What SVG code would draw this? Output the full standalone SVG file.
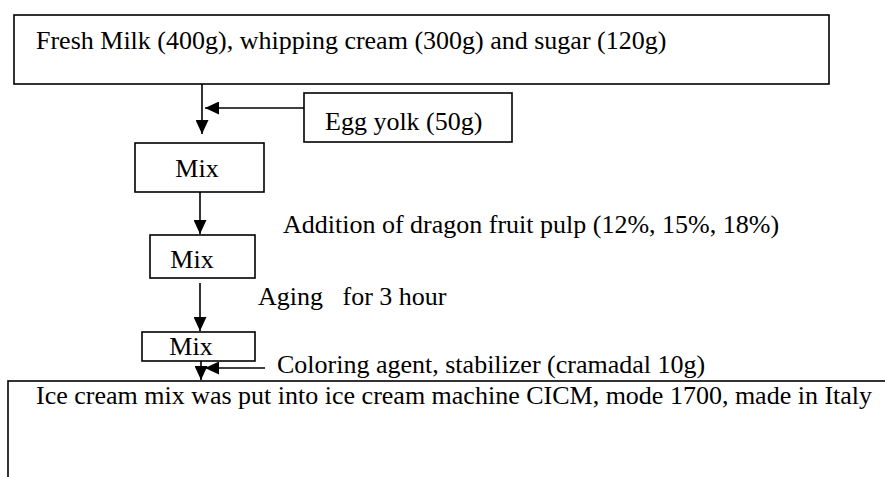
<svg xmlns="http://www.w3.org/2000/svg" width="885" height="477" viewBox="0 0 885 477">
<style>
.box{fill:#fff;stroke:#000;stroke-width:1.6}
.t{font-family:"Liberation Serif","Times New Roman",serif;font-size:26px;fill:#000}
.c{stroke:#000;stroke-width:1.6;fill:none}
</style>
<defs>
<marker id="ahs" viewBox="0 0 10 10" refX="10" refY="5" markerWidth="14" markerHeight="13" markerUnits="userSpaceOnUse" orient="auto" preserveAspectRatio="none">
<path d="M0,0 L10,5 L0,10 Z" fill="#000"/>
</marker>
</defs>
<rect width="885" height="477" fill="#fff"/>
<g id="connectors">
<line class="c" x1="202" y1="84" x2="202" y2="134" marker-end="url(#ahs)"/>
<line class="c" x1="304" y1="108" x2="205" y2="108" marker-end="url(#ahs)"/>
<line class="c" x1="200" y1="192" x2="200" y2="234" marker-end="url(#ahs)"/>
<line class="c" x1="200" y1="283" x2="200" y2="331" marker-end="url(#ahs)"/>
<line class="c" x1="201" y1="361" x2="201" y2="380" marker-end="url(#ahs)"/>
<line class="c" x1="265" y1="368" x2="205" y2="368" marker-end="url(#ahs)"/>
</g>
<g id="n-top">
<rect class="box" x="14" y="15" width="815" height="69"/>
<text class="t" x="36" y="49">Fresh Milk (400g), whipping cream (300g) and sugar (120g)</text>
</g>
<g id="n-egg">
<rect class="box" x="304" y="93" width="208" height="49"/>
<text class="t" x="325" y="130">Egg yolk (50g)</text>
</g>
<g id="n-mix1">
<rect class="box" x="135" y="143" width="129" height="49"/>
<text class="t" x="197" y="177" text-anchor="middle">Mix</text>
</g>
<g id="n-dragon">
<text class="t" x="283" y="233">Addition of dragon fruit pulp (12%, 15%, 18%)</text>
</g>
<g id="n-mix2">
<rect class="box" x="150" y="235" width="105" height="43"/>
<text class="t" x="192" y="268" text-anchor="middle">Mix</text>
</g>
<g id="n-aging">
<text class="t" x="258" y="305" xml:space="preserve">Aging   for 3 hour</text>
</g>
<g id="n-mix3">
<rect class="box" x="142" y="332" width="113" height="29"/>
<text class="t" x="191" y="355" text-anchor="middle">Mix</text>
</g>
<g id="n-color">
<text class="t" x="277" y="373">Coloring agent, stabilizer (cramadal 10g)</text>
</g>
<g id="n-bottom">
<rect class="box" x="8" y="381" width="890" height="110"/>
<text class="t" x="36" y="404">Ice cream mix was put into ice cream machine CICM, mode 1700, made in Italy</text>
</g>
</svg>
